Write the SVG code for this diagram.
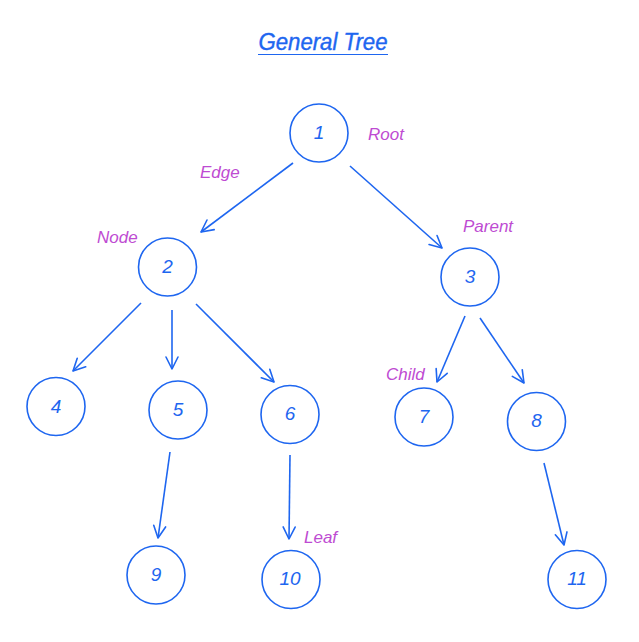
<svg xmlns="http://www.w3.org/2000/svg" width="639" height="642" viewBox="0 0 639 642">
<style>
.n circle{fill:none;stroke:#1e66f0;stroke-width:1.6}
.n text{font-family:"Liberation Sans",Arial,sans-serif;font-style:italic;font-size:19px;fill:#1e66f0;text-anchor:middle}
.lbl{font-family:"Liberation Sans",Arial,sans-serif;font-style:italic;font-size:17px;fill:#be4bd2}
.title{font-family:"Liberation Sans",Arial,sans-serif;font-style:italic;font-size:23px;fill:#1e66f0;text-anchor:middle;stroke:#1e66f0;stroke-width:0.4}
#edges line{stroke:#1e66f0;stroke-width:1.6;fill:none;marker-end:url(#ah)}
</style>
<defs>
<marker id="ah" markerUnits="userSpaceOnUse" markerWidth="30" markerHeight="30" viewBox="-15 -15 30 30" refX="0" refY="0" orient="auto">
<path d="M-12,-6 L0,0 L-12,6" fill="none" stroke="#1e66f0" stroke-width="1.6" stroke-linecap="round" stroke-linejoin="round"/>
</marker>
</defs>
<rect width="639" height="642" fill="#ffffff"/>
<g id="title">
<text class="title" x="323" y="50" textLength="129" lengthAdjust="spacingAndGlyphs">General Tree</text>
<line x1="258" y1="54.5" x2="388" y2="54.5" stroke="#1e66f0" stroke-width="1.2"/>
</g>
<g id="edges">
<line x1="293" y1="163" x2="201" y2="232"/>
<line x1="350" y1="166" x2="442" y2="248"/>
<line x1="141" y1="303" x2="73" y2="371"/>
<line x1="172" y1="310" x2="172" y2="369"/>
<line x1="196" y1="304" x2="274" y2="382"/>
<line x1="465" y1="316" x2="437" y2="382"/>
<line x1="480" y1="318" x2="524" y2="383"/>
<line x1="544" y1="463" x2="564" y2="545"/>
<line x1="170" y1="452" x2="158" y2="538"/>
<line x1="290" y1="455" x2="289" y2="539"/>
</g>
<g id="node1" class="n"><circle cx="319" cy="133" r="29"/><text x="319" y="139">1</text></g>
<g id="node2" class="n"><circle cx="167.5" cy="267" r="29"/><text x="167.5" y="273">2</text></g>
<g id="node3" class="n"><circle cx="470" cy="277" r="29"/><text x="470" y="283">3</text></g>
<g id="node4" class="n"><circle cx="56" cy="406.5" r="29"/><text x="56" y="413">4</text></g>
<g id="node5" class="n"><circle cx="178" cy="410" r="29"/><text x="178" y="416">5</text></g>
<g id="node6" class="n"><circle cx="290" cy="414.5" r="29"/><text x="290" y="420">6</text></g>
<g id="node7" class="n"><circle cx="424" cy="417" r="29"/><text x="424" y="423">7</text></g>
<g id="node8" class="n"><circle cx="536.5" cy="421.5" r="29"/><text x="536.5" y="427">8</text></g>
<g id="node9" class="n"><circle cx="156" cy="575" r="29"/><text x="156" y="581">9</text></g>
<g id="node10" class="n"><circle cx="291" cy="579.5" r="29"/><text x="290" y="585">10</text></g>
<g id="node11" class="n"><circle cx="577" cy="579.5" r="29"/><text x="577" y="585">11</text></g>
<g id="labels">
<text class="lbl" x="368" y="140">Root</text>
<text class="lbl" x="200" y="178">Edge</text>
<text class="lbl" x="97" y="243">Node</text>
<text class="lbl" x="463" y="232">Parent</text>
<text class="lbl" x="386" y="380">Child</text>
<text class="lbl" x="304" y="543">Leaf</text>
</g>
</svg>
